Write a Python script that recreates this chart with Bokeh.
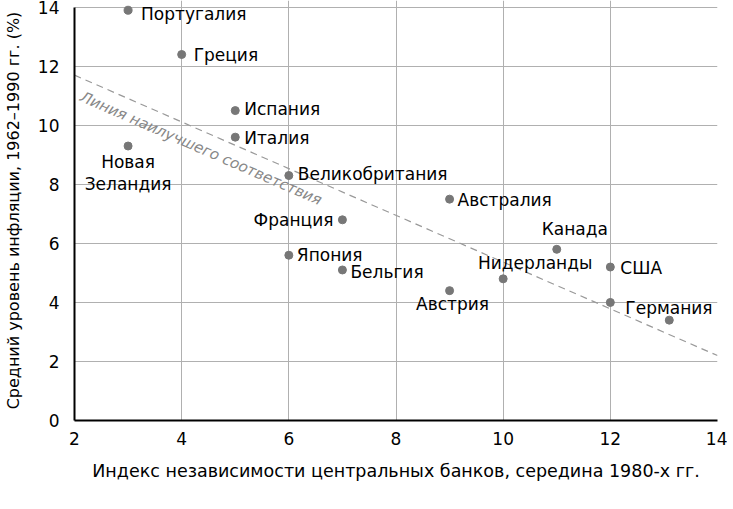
from bokeh.plotting import figure
from bokeh.models import ColumnDataSource, FixedTicker, Range1d
from bokeh.core.properties import value
from bokeh.embed import file_html
from bokeh.resources import INLINE
import math

# ---- data ----
countries = ["Португалия", "Греция", "Испания", "Италия", "Новая\nЗеландия",
             "Великобритания", "Франция", "Австралия", "Япония", "Бельгия",
             "Канада", "Нидерланды", "США", "Австрия", "Германия", ""]
cbi_index = [3, 4, 5, 5, 3, 6, 7, 9, 6, 7, 11, 10, 12, 9, 12, 13.1]
inflation = [13.9, 12.4, 10.5, 9.6, 9.3, 8.3, 6.8, 7.5, 5.6, 5.1, 5.8, 4.8, 5.2, 4.4, 4.0, 3.4]
fit_x = [2, 14]
fit_y = [11.7, 2.2]
x_ticks = [2, 4, 6, 8, 10, 12, 14]
y_ticks = [0, 2, 4, 6, 8, 10, 12, 14]

# label placement (pixel offsets, styling only; positive dy = down)
label_dx = [13, 12, 9, 9, 0, 9, -9, 8, 8, 8, 18, 32, 10, 3, 15, 0]
label_dy = [4, 0, -2, 1, 27, -2, 0, 1, 0, 2, -20, -16, 1, 13, 6, 0]
label_align = ["left", "left", "left", "left", "center", "left", "right", "left",
               "left", "left", "center", "center", "left", "center", "left", "left"]

FONT = "DejaVu Sans"
GRID = "#b0b0b0"
PT = "#777777"

FW, FH = 643, 420
Y_TOP = 14.23  # a few pixels of headroom above the 14 line inside the frame
p = figure(frame_width=FW, frame_height=FH, output_backend="svg", toolbar_location=None,
           x_range=Range1d(2, 14), y_range=Range1d(0, Y_TOP),
           min_border_left=64, min_border_right=10, min_border_top=0, min_border_bottom=56)
p.title.visible = False

p.outline_line_color = None
p.background_fill_color = "white"
p.border_fill_color = "white"

for ax in (p.xaxis[0], p.yaxis[0]):
    ax.axis_line_color = "black"
    ax.axis_line_width = 2
    ax.major_tick_line_color = None
    ax.minor_tick_line_color = None
    ax.major_label_text_font = FONT
    ax.major_label_text_font_size = "17px"
    ax.major_label_text_color = "black"
    ax.axis_label_text_font = FONT
    ax.axis_label_text_font_style = "normal"
    ax.axis_label_text_color = "black"

p.xaxis.axis_label_text_font_size = "17.5px"
p.yaxis.axis_label_text_font_size = "16px"
p.yaxis.bounds = (0, 14)
p.xaxis.ticker = FixedTicker(ticks=x_ticks)
p.yaxis.ticker = FixedTicker(ticks=y_ticks)
p.xaxis.major_label_standoff = 5
p.yaxis.major_label_standoff = 9
p.xaxis.axis_label = "Индекс независимости центральных банков, середина 1980-х гг."
p.yaxis.axis_label = "Средний уровень инфляции, 1962–1990 гг. (%)"
p.xaxis.axis_label_standoff = 13
p.yaxis.axis_label_standoff = 12

p.xgrid.ticker = FixedTicker(ticks=x_ticks)
p.ygrid.ticker = FixedTicker(ticks=y_ticks)
p.xgrid.bounds = (0, 14)
p.grid.grid_line_color = GRID
p.grid.grid_line_width = 1

# best fit line
p.line(fit_x, fit_y, line_color="#999999", line_width=1.2, line_dash="7 5")
angle = math.atan((fit_y[1] - fit_y[0]) / (fit_x[1] - fit_x[0]) * (FH / Y_TOP) / (FW / 12))
p.text(x=[4.36], y=[9.22], text=["Линия наилучшего соответствия"], angle=angle,
       text_font=value(FONT), text_font_size="15px", text_font_style="italic",
       text_color="#888888", text_align="center", text_baseline="middle")

src = ColumnDataSource(dict(x=cbi_index, y=inflation, name=countries,
                            dx=label_dx, dy=label_dy, align=label_align))
p.scatter("x", "y", source=src, size=8, fill_color=PT, line_color=PT)
p.text("x", "y", text="name", source=src, x_offset="dx", y_offset="dy",
       text_align="align", text_baseline="middle", text_font=value(FONT),
       text_font_size="17px", text_color="black", text_line_height=1.1)

open("out.html", "w").write(file_html(p, INLINE))
